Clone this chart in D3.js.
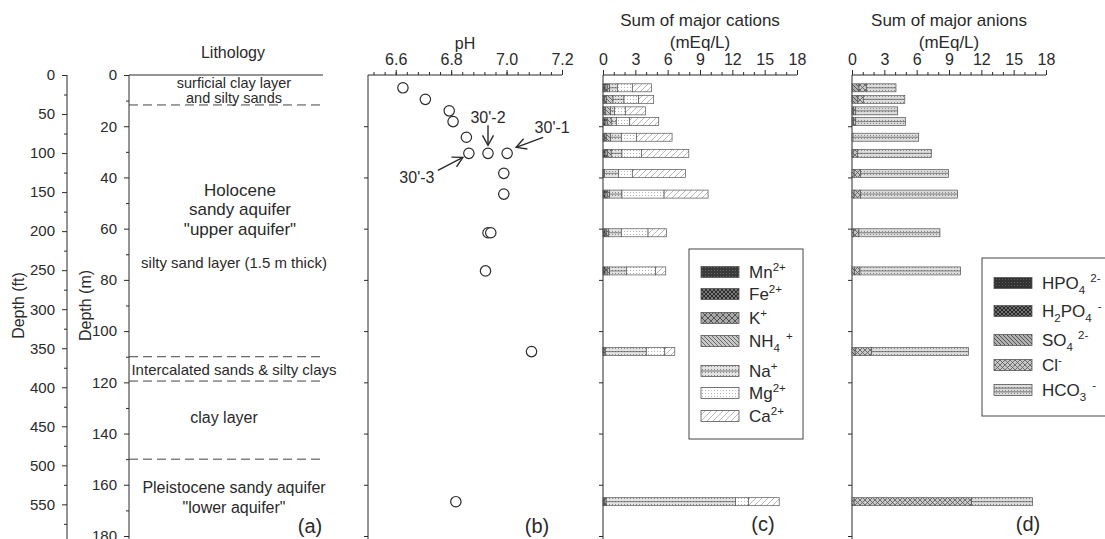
<!DOCTYPE html>
<html><head><meta charset="utf-8">
<script src="https://cdn.jsdelivr.net/npm/d3@7"></script>
<style>
html,body{margin:0;padding:0;background:#fff;}
svg{display:block;}
</style></head><body>
<svg id="chart" width="1105" height="539"></svg>
<script>
// ---------- data ----------
// sampling depths (m) for the chemistry profiles
const sampleDepth = [5, 9.5, 14, 18.2, 24.3, 30.6, 38.4, 46.5, 61.6, 76.5, 108, 166.6];

// major cations (mEq/L)
const mn  = [0.05, 0.04, 0.03, 0.05, 0.04, 0.05, 0.02, 0.05, 0.05, 0.05, 0.02, 0.05];
const fe  = [0.15, 0.10, 0.07, 0.15, 0.12, 0.15, 0.05, 0.15, 0.15, 0.15, 0.08, 0.10];
const k   = [0.20, 0.17, 0.12, 0.20, 0.15, 0.22, 0.08, 0.20, 0.15, 0.20, 0.12, 0.15];
const nh4 = [0.22, 0.62, 0.49, 0.37, 0.40, 0.35, 0.00, 0.22, 0.18, 0.22, 0.00, 0.00];
const na  = [0.71, 1.02, 0.37, 0.47, 0.99, 0.99, 1.31, 1.14, 1.17, 1.55, 3.80, 11.99];
const mg  = [1.39, 1.36, 0.99, 1.24, 1.40, 1.80, 1.26, 3.91, 2.48, 2.69, 1.71, 1.20];
const ca  = [1.77, 1.39, 1.86, 2.69, 3.31, 4.40, 4.93, 4.08, 1.70, 0.96, 0.93, 2.86];

// major anions (mEq/L)
const hpo4  = [0.00, 0.00, 0.00, 0.00, 0.00, 0.00, 0.00, 0.00, 0.00, 0.00, 0.00, 0.00];
const h2po4 = [0.05, 0.05, 0.05, 0.05, 0.00, 0.00, 0.00, 0.00, 0.00, 0.00, 0.00, 0.00];
const so4   = [0.60, 0.50, 0.10, 0.10, 0.00, 0.10, 0.20, 0.20, 0.15, 0.24, 0.30, 0.20];
const cl    = [0.70, 0.50, 0.20, 0.20, 0.10, 0.40, 0.60, 0.60, 0.50, 0.50, 1.53, 10.90];
const hco3  = [2.73, 3.85, 3.89, 4.60, 6.09, 6.86, 8.14, 9.00, 7.51, 9.34, 8.97, 5.66];

// pH profile
const phDepth = [5, 9.5, 14, 18.2, 24.3, 30.6, 30.6, 30.6, 38.4, 46.5, 61.6, 61.6, 76.5, 108, 166.6];
const phValue = [6.626, 6.707, 6.793, 6.807, 6.855, 6.864, 6.933, 7.002, 6.99, 6.99, 6.933, 6.943, 6.924, 7.09, 6.817];

// labelled nested wells
const wellNames = ["30'-1", "30'-2", "30'-3"];
const wellPH    = [7.002, 6.933, 6.864];
const wellDepth = [30.6, 30.6, 30.6];

// lithology
const layerBoundaries = [11.7, 110, 119.5, 150];
const lithoText  = ["surficial clay layer", "and silty sands", "Holocene", "sandy aquifer", "\"upper aquifer\"",
                    "silty sand layer (1.5 m thick)", "Intercalated sands & silty clays", "clay layer",
                    "Pleistocene sandy aquifer", "\"lower aquifer\""];
const lithoDepth = [2.9, 8.9, 44.9, 52.3, 60.1, 73.4, 115.2, 133.5, 160.9, 168.7];

// axis ticks
const depthTicksM  = [0, 20, 40, 60, 80, 100, 120, 140, 160, 180];
const depthTicksFt = [0, 50, 100, 150, 200, 250, 300, 350, 400, 450, 500, 550];
const phTicks   = [6.6, 6.8, 7.0, 7.2];
const ionTicks  = [0, 3, 6, 9, 12, 15, 18];

const cationKeys   = ["mn", "fe", "k", "nh4", "na", "mg", "ca"];
const anionKeys    = ["hpo4", "h2po4", "so4", "cl", "hco3"];
const cationLabels = [[["Mn"], ["2+", "sup"]], [["Fe"], ["2+", "sup"]], [["K"], ["+", "sup"]],
                      [["NH"], ["4", "sub"], ["+", "sup", 6]], [["Na"], ["+", "sup"]],
                      [["Mg"], ["2+", "sup"]], [["Ca"], ["2+", "sup"]]];
const anionLabels  = [[["HPO"], ["4", "sub"], ["2-", "sup", 5]],
                      [["H"], ["2", "sub"], ["PO"], ["4", "sub"], ["-", "sup", 6]],
                      [["SO"], ["4", "sub"], ["2-", "sup", 5]],
                      [["Cl"], ["-", "sup"]],
                      [["HCO"], ["3", "sub"], ["-", "sup", 6]]];

// ---------- setup ----------
const FONT = "'Liberation Sans', Arial, Helvetica, sans-serif";
const INK = "#2a2a2a";
const svg = d3.select("#chart").style("font-family", FONT);
svg.append("rect").attr("width", 1105).attr("height", 539).attr("fill", "#fff");

const topY = 75, plotBottom = 536, lineBottom = 539;
const y   = d3.scaleLinear().domain([0, 180]).range([topY, plotBottom]);
const yFt = d3.scaleLinear().domain([0, 180 / 0.3048]).range([topY, plotBottom]);
const xPH = d3.scaleLinear().domain([6.5, 7.2]).range([368, 562]);
const xCat = d3.scaleLinear().domain([0, 18]).range([603, 797]);
const xAn  = d3.scaleLinear().domain([0, 18]).range([852, 1046]);
const lithoX = d3.scaleLinear().domain([0, 1]).range([129, 325]);

// ---------- fill patterns ----------
const defs = svg.append("defs");
function pattern(id, size, bg, draw) {
  const p = defs.append("pattern").attr("id", id).attr("patternUnits", "userSpaceOnUse")
    .attr("width", size).attr("height", size);
  p.append("rect").attr("width", size).attr("height", size).attr("fill", bg);
  draw(p, size);
}
const dots = (col, step, r) => (p, s) => {
  for (let i = 0; i < s; i += step) for (let j = 0; j < s; j += step)
    p.append("rect").attr("x", i + ((j / step) % 2 ? step / 2 : 0)).attr("y", j).attr("width", r).attr("height", r).attr("fill", col);
};
const lines = (col, w, dirs) => (p, s) => {
  dirs.forEach(d => {
    const path = d === "/" ? `M0,${s} L${s},0 M${-s / 2},${s / 2} L${s / 2},${-s / 2} M${s / 2},${s * 1.5} L${s * 1.5},${s / 2}`
                           : `M0,0 L${s},${s} M${-s / 2},${s / 2} L${s / 2},${s * 1.5} M${s / 2},${-s / 2} L${s * 1.5},${s / 2}`;
    p.append("path").attr("d", path).attr("stroke", col).attr("stroke-width", w).attr("fill", "none");
  });
};
pattern("p-mn", 3, "#3a3a3a", dots("#6a6a6a", 3, 1));
pattern("p-fe", 4, "#7a7a7a", lines("#2c2c2c", 1, ["/", "\\"]));
pattern("p-k", 6, "#a8a8a8", lines("#4a4a4a", 0.9, ["/", "\\"]));
pattern("p-nh4", 4, "#c8c8c8", lines("#5e5e5e", 0.9, ["\\"]));
pattern("p-na", 3, "#e2e2e2", dots("#8a8a8a", 3, 1));
pattern("p-mg", 3, "#ffffff", dots("#b4b4b4", 3, 1));
pattern("p-ca", 6, "#ffffff", lines("#9a9a9a", 0.7, ["/"]));
pattern("p-hpo4", 3, "#333333", dots("#5a5a5a", 3, 1));
pattern("p-h2po4", 4, "#6e6e6e", lines("#2a2a2a", 1, ["/", "\\"]));
pattern("p-so4", 4, "#b0b0b0", lines("#4c4c4c", 0.9, ["\\"]));
pattern("p-cl", 5, "#c6c6c6", lines("#5a5a5a", 0.8, ["/", "\\"]));
pattern("p-hco3", 3, "#dcdcdc", dots("#8c8c8c", 3, 1));

defs.append("marker").attr("id", "arrow").attr("viewBox", "-12 -7 14 14")
  .attr("refX", 0).attr("refY", 0).attr("markerWidth", 14).attr("markerHeight", 14)
  .attr("markerUnits", "userSpaceOnUse").attr("orient", "auto")
  .append("path").attr("d", "M-10,-5.5 L0,0 L-10,5.5").attr("fill", "none")
  .attr("stroke", INK).attr("stroke-width", 1.4);

// ---------- helpers ----------
function styleAxis(g, fs) {
  g.select(".domain").remove();
  g.selectAll(".tick line").attr("stroke", INK);
  g.selectAll(".tick text").attr("fill", INK).style("font-family", FONT).style("font-size", fs + "px");
}
function vline(x) {
  svg.append("line").attr("x1", x).attr("x2", x).attr("y1", topY).attr("y2", lineBottom)
    .attr("stroke", INK).attr("stroke-width", 1);
}
function hline(x1, x2) {
  svg.append("line").attr("x1", x1).attr("x2", x2).attr("y1", topY).attr("y2", topY)
    .attr("stroke", INK).attr("stroke-width", 1);
}
function text(x, yy, s, fs, anchor = "middle") {
  return svg.append("text").attr("x", x).attr("y", yy).attr("text-anchor", anchor)
    .attr("fill", INK).style("font-size", fs + "px").text(s);
}
function richText(sel, parts, fs) {
  let cur = 0;
  parts.forEach(([t, kind, dx]) => {
    const target = kind === "sup" ? -0.42 * fs : kind === "sub" ? 0.3 * fs : 0;
    const ts = sel.append("tspan").attr("dy", target - cur).text(t);
    if (kind) ts.style("font-size", (fs * 0.68) + "px");
    if (dx) ts.attr("dx", dx);
    cur = target;
  });
}

// ---------- panel (a): lithology ----------
vline(67);
vline(129);
hline(129, 323);
svg.append("g").attr("transform", "translate(67,0)")
  .call(d3.axisLeft(yFt).tickValues(d3.range(25, 590, 50)).tickSize(3).tickFormat(""))
  .call(g => styleAxis(g, 15));
svg.append("g").attr("transform", "translate(67,0)")
  .call(d3.axisLeft(yFt).tickValues(depthTicksFt).tickSize(5).tickPadding(7))
  .call(g => styleAxis(g, 15));
svg.append("g").attr("transform", "translate(129,0)")
  .call(d3.axisLeft(y).tickValues(d3.range(10, 180, 20)).tickSize(3).tickFormat(""))
  .call(g => styleAxis(g, 15));
svg.append("g").attr("transform", "translate(129,0)")
  .call(d3.axisLeft(y).tickValues(depthTicksM).tickSize(5).tickPadding(7))
  .call(g => styleAxis(g, 15));

text(0, 0, "Depth (ft)", 16).attr("transform", `translate(24,${y(90)}) rotate(-90)`);
text(0, 0, "Depth (m)", 16).attr("transform", `translate(91,${y(90)}) rotate(-90)`);
text(233, 58, "Lithology", 16);

svg.append("g").selectAll("line").data(layerBoundaries).join("line")
  .attr("x1", lithoX(0)).attr("x2", lithoX(1))
  .attr("y1", d => y(d)).attr("y2", d => y(d))
  .attr("stroke", "#444").attr("stroke-width", 1).attr("stroke-dasharray", "9,5");

svg.append("g").selectAll("text").data(lithoText).join("text")
  .attr("x", (d, i) => i >= 2 && i <= 4 ? 240 : (i === 7 ? 224 : 234))
  .attr("y", (d, i) => y(lithoDepth[i]))
  .attr("dy", "0.35em").attr("text-anchor", "middle").attr("fill", INK)
  .style("font-size", (d, i) => (i < 2 ? 14.5 : (i >= 2 && i <= 4 ? 17 : (i === 7 || i >= 8 ? 16 : 15))) + "px")
  .text(d => d);
text(310, 533, "(a)", 20);

// ---------- panel (b): pH ----------
vline(368);
svg.append("g").attr("transform", "translate(368,0)")
  .call(d3.axisLeft(y).tickValues(depthTicksM.slice(1)).tickSize(4).tickFormat(""))
  .call(g => styleAxis(g, 15));
hline(368, 562);
svg.append("g").attr("transform", `translate(0,${topY})`)
  .call(d3.axisTop(xPH).tickValues(d3.range(6.52, 7.201, 0.04)).tickSize(3).tickFormat(""))
  .call(g => styleAxis(g, 15));
svg.append("g").attr("transform", `translate(0,${topY})`)
  .call(d3.axisTop(xPH).tickValues(phTicks).tickSize(5).tickPadding(5).tickFormat(d3.format(".1f")))
  .call(g => styleAxis(g, 16));
text(465, 49, "pH", 16);

svg.append("g").selectAll("circle").data(phValue).join("circle")
  .attr("cx", d => xPH(d)).attr("cy", (d, i) => y(phDepth[i])).attr("r", 5.2)
  .attr("fill", "#fff").attr("stroke", INK).attr("stroke-width", 1.2);

// arrows and names of the three nested wells
const wellCallout = [
  { tx: 45, ty: -26, ax1: 36, ay1: -16, ax2: 9, ay2: -6 },
  { tx: 0, ty: -36, ax1: 0, ay1: -28, ax2: 0, ay2: -8 },
  { tx: -52, ty: 24, ax1: -31, ay1: 17, ax2: -6, ay2: 4 }
];
wellNames.forEach((name, i) => {
  const cx = xPH(wellPH[i]), cy = y(wellDepth[i]), c = wellCallout[i];
  svg.append("line").attr("x1", cx + c.ax1).attr("y1", cy + c.ay1).attr("x2", cx + c.ax2).attr("y2", cy + c.ay2)
    .attr("stroke", INK).attr("stroke-width", 1.4).attr("marker-end", "url(#arrow)");
  text(cx + c.tx, cy + c.ty, name, 16).attr("dy", "0.35em");
});
text(537, 533, "(b)", 20);

// ---------- stacked ion panels ----------
const rows = sampleDepth.map((d, i) => ({
  depth: d, mn: mn[i], fe: fe[i], k: k[i], nh4: nh4[i], na: na[i], mg: mg[i], ca: ca[i],
  hpo4: hpo4[i], h2po4: h2po4[i], so4: so4[i], cl: cl[i], hco3: hco3[i]
}));
const barH = 8;

function ionPanel(x, keys, title, midLineKeys) {
  const x0 = x.range()[0];
  vline(x0);
  svg.append("g").attr("transform", `translate(${x0},0)`)
    .call(d3.axisLeft(y).tickValues(depthTicksM.slice(1)).tickSize(4).tickFormat(""))
    .call(g => styleAxis(g, 15));
  hline(x0, x.range()[1]);
  svg.append("g").attr("transform", `translate(0,${topY})`)
    .call(d3.axisTop(x).tickValues(d3.range(1, 18, 1).filter(v => v % 3)).tickSize(3).tickFormat(""))
    .call(g => styleAxis(g, 15));
  svg.append("g").attr("transform", `translate(0,${topY})`)
    .call(d3.axisTop(x).tickValues(ionTicks).tickSize(5).tickPadding(5))
    .call(g => styleAxis(g, 16));
  const cx = (x.range()[0] + x.range()[1]) / 2;
  text(cx, 26, title, 17);
  text(cx, 48, "(mEq/L)", 17);

  const series = d3.stack().keys(keys)(rows);
  const g = svg.append("g");
  series.forEach(s => {
    const gs = g.append("g");
    const segs = s.filter(d => d[1] - d[0] > 0.001);
    gs.selectAll("rect").data(segs).join("rect")
      .attr("x", d => x(d[0])).attr("width", d => x(d[1]) - x(d[0]))
      .attr("y", d => y(d.data.depth) - barH / 2).attr("height", barH)
      .attr("fill", `url(#p-${s.key})`).attr("stroke", "#555").attr("stroke-width", 0.7);
    if (midLineKeys.includes(s.key)) {
      gs.selectAll("line").data(segs).join("line")
        .attr("x1", d => x(d[0])).attr("x2", d => x(d[1]))
        .attr("y1", d => y(d.data.depth)).attr("y2", d => y(d.data.depth))
        .attr("stroke", "#555").attr("stroke-width", 0.7);
    }
  });
}
ionPanel(xCat, cationKeys, "Sum of major cations", ["na"]);
ionPanel(xAn, anionKeys, "Sum of major anions", ["hco3"]);

// ---------- legends ----------
function legend(x0, y0, w, h, rowsY, keys, labels, stripeKeys) {
  const g = svg.append("g");
  g.append("rect").attr("x", x0).attr("y", y0).attr("width", w).attr("height", h)
    .attr("fill", "#fff").attr("stroke", "#444").attr("stroke-width", 1);
  keys.forEach((key, i) => {
    const yy = rowsY[i];
    g.append("rect").attr("x", x0 + 12).attr("y", yy - 5.5).attr("width", 38).attr("height", 11)
      .attr("fill", `url(#p-${key})`).attr("stroke", "#555").attr("stroke-width", 0.8);
    if (stripeKeys[key]) {
      stripeKeys[key].forEach(f => g.append("line").attr("x1", x0 + 12).attr("x2", x0 + 50)
        .attr("y1", yy - 5.5 + 11 * f).attr("y2", yy - 5.5 + 11 * f)
        .attr("stroke", "#555").attr("stroke-width", 0.8));
    }
    const t = g.append("text").attr("x", x0 + 60).attr("y", yy + 6).attr("fill", INK).style("font-size", "17px");
    richText(t, labels[i], 17);
  });
}
legend(689, 249, 114, 190, [272, 294, 318, 341, 371, 393, 416], cationKeys, cationLabels, { na: [0.5] });
legend(982, 258, 140, 158, [283, 311, 340, 365, 390], anionKeys, anionLabels, { hco3: [0.33, 0.67] });

text(763, 531, "(c)", 20);
text(1028, 531, "(d)", 20);
</script>
</body></html>
